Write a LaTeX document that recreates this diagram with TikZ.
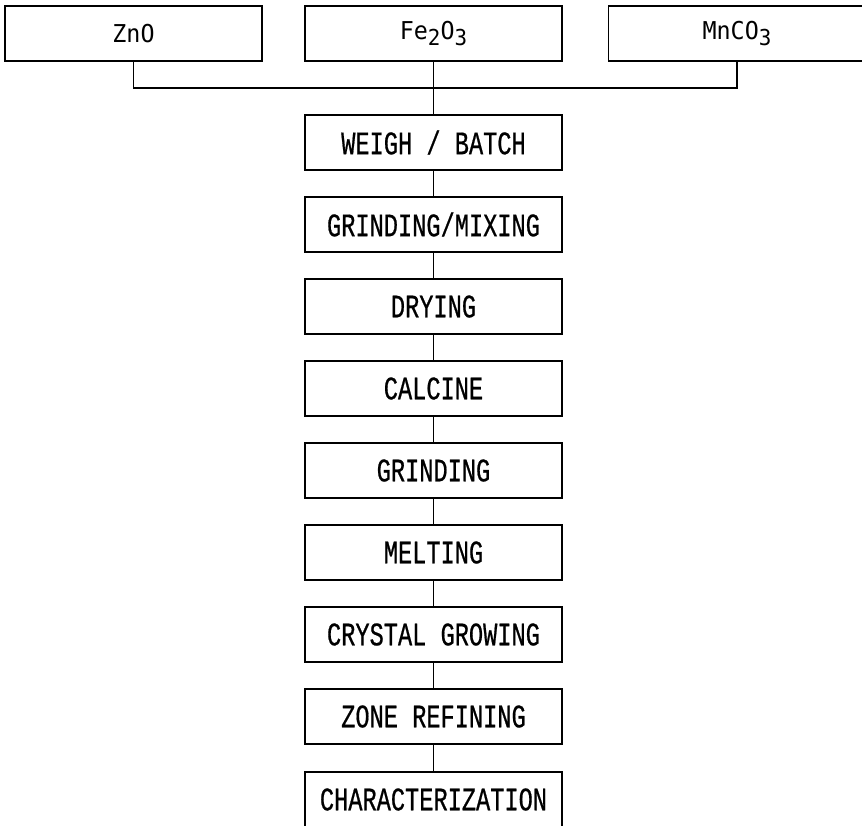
\documentclass[tikz,border=0pt]{standalone}
\usepackage{fontspec}
\usepackage{tikz}
\usetikzlibrary{positioning,calc}
\newfontfamily\stepfont[FakeStretch=0.72,FakeBold=0.6]{Liberation Mono}
\newfontfamily\oxidefont[FakeStretch=0.95]{DejaVu Sans Mono}
\newcommand{\sub}[1]{\raisebox{-0.4ex}{\fontsize{12.5pt}{13pt}\selectfont #1}}

\begin{document}
\begin{tikzpicture}[
  x=0.02cm, y=-0.02cm,
  every node/.style={line width=0.8pt},
  oxidebox/.style={rectangle, draw=black, minimum width=5.14cm, minimum height=1.1cm,
                   inner sep=0pt, font=\oxidefont\fontsize{14pt}{15pt}\selectfont},
  stepbox/.style={rectangle, draw=black, minimum width=5.14cm, minimum height=1.1cm,
                  inner sep=0pt, font=\stepfont\fontsize{18.7pt}{20pt}\selectfont},
  link/.style={draw=black, line width=0.8pt}
]
  \clip (0,0) rectangle (862,825);
  % raw materials
  \node[oxidebox] (zno)  at (133.5,33.5) {ZnO};
  \node[oxidebox] (fe)   at (433.5,33.5) {Fe\sub{2}O\sub{3}};
  \node[oxidebox] (mnco) at (737,33.5) {MnCO\sub{3}};
  \coordinate (bus) at (433.5,88);
  % process steps
  \node[stepbox] (weigh)   at (433.5,142.5) {WEIGH / BATCH};
  \node[stepbox] (mix)     at (433.5,224.5) {GRINDING/MIXING};
  \node[stepbox] (dry)     at (433.5,306.5) {DRYING};
  \node[stepbox] (calcine) at (433.5,388.5) {CALCINE};
  \node[stepbox] (grind)   at (433.5,470.5) {GRINDING};
  \node[stepbox] (melt)    at (433.5,552.5) {MELTING};
  \node[stepbox] (crystal) at (433.5,634.5) {CRYSTAL GROWING};
  \node[stepbox] (zone)    at (433.5,716.5) {ZONE REFINING};
  \node[stepbox] (charac)  at (433.5,799.5) {CHARACTERIZATION};
  % connectors
  \draw[link] (zno.south) |- (bus) -| (mnco.south);
  \draw[link] (fe.south) -- (weigh.north);
  \foreach \a/\b in {weigh/mix, mix/dry, dry/calcine, calcine/grind,
                     grind/melt, melt/crystal, crystal/zone, zone/charac}
    \draw[link] (\a.south) -- (\b.north);
\end{tikzpicture}
\end{document}
